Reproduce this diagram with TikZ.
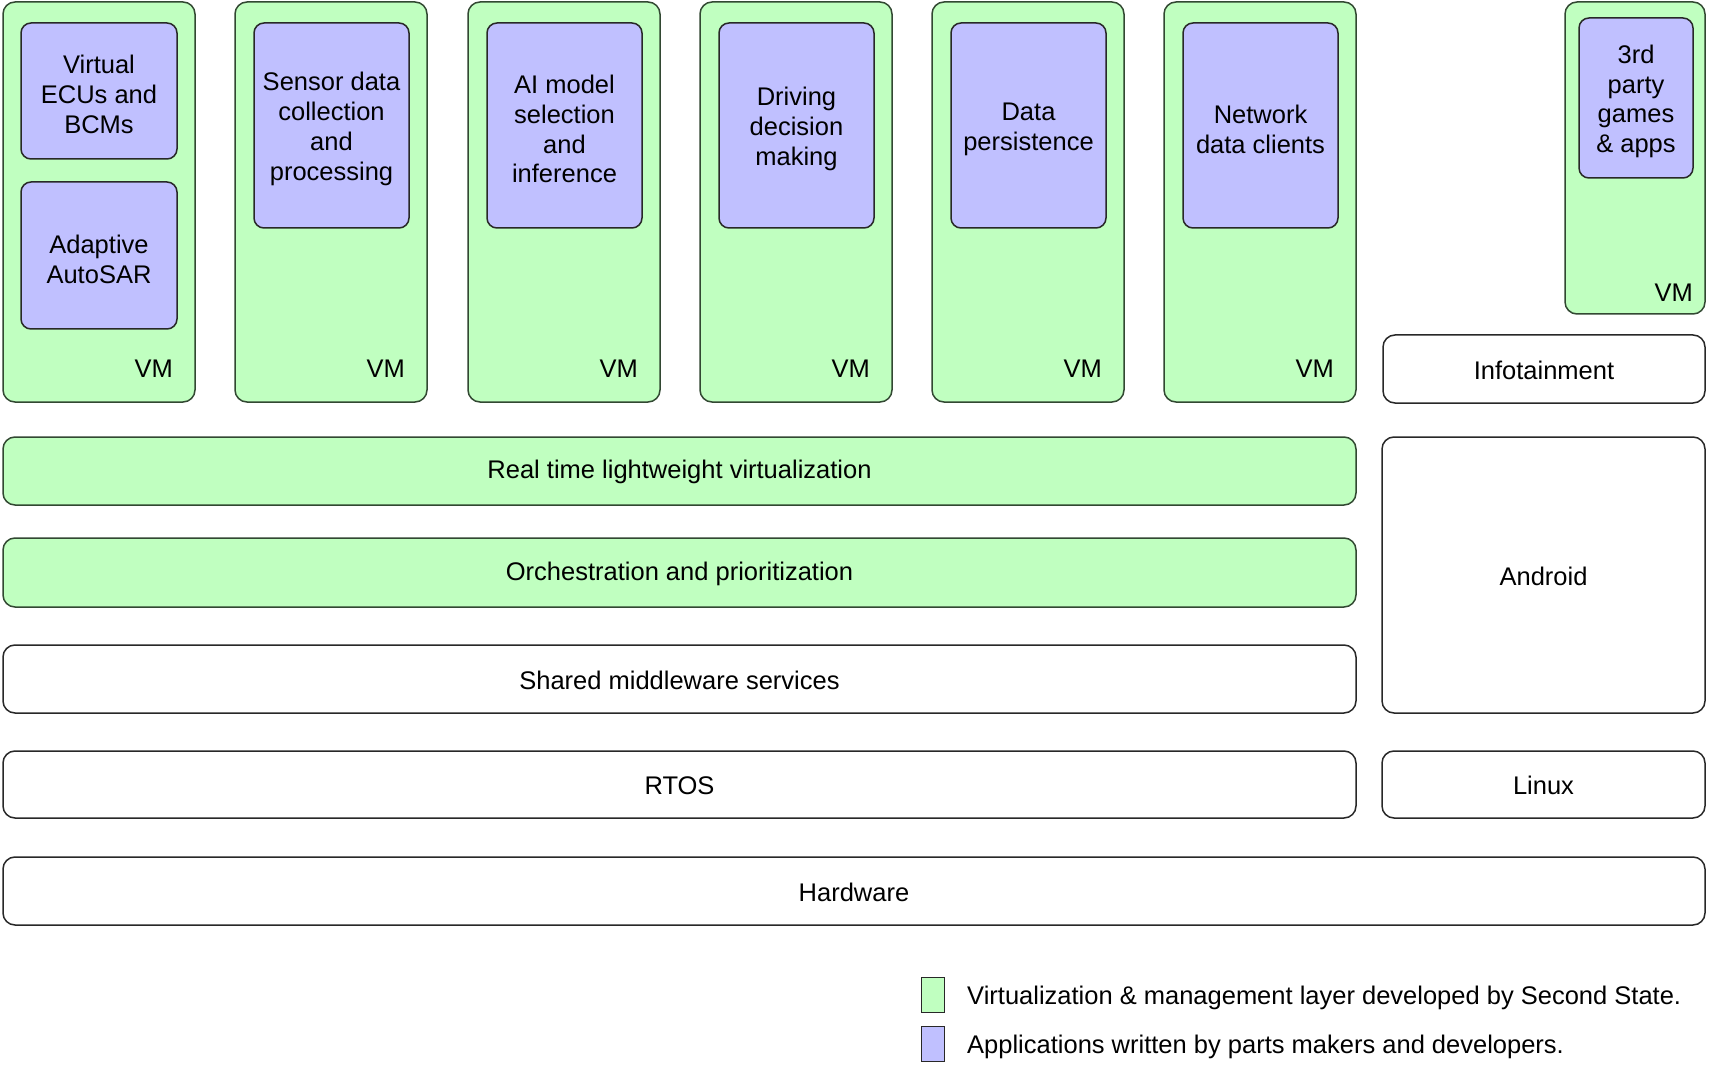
\documentclass[tikz,border=0pt]{standalone}
\usepackage{fontspec}
\setmainfont{Liberation Sans}
\definecolor{vmgreen}{RGB}{192,255,192}
\definecolor{apppurple}{RGB}{192,192,255}
\definecolor{gedge}{RGB}{50,72,50}
\definecolor{bedge}{RGB}{40,40,40}
\begin{document}
\begin{tikzpicture}[x=1pt,y=-1pt,
  font=\fontsize{25.5}{29.8}\selectfont,
  box/.style={draw=bedge, line width=1.5pt, rounded corners=12pt, inner sep=0pt, outer sep=0pt, anchor=north west},
  vm/.style={box, fill=vmgreen, draw=gedge},
  app/.style={box, fill=apppurple, rounded corners=10pt},
  layer/.style={box, fill=white},
  txt/.style={inner sep=0pt, align=center, yshift=-3.5pt},
  ltxt/.style={inner sep=0pt, align=center, yshift=-1pt},
  vmlabel/.style={anchor=east, inner sep=0pt, yshift=-1pt},
  legsq/.style={draw=bedge, line width=1.2pt, inner sep=0pt, anchor=north west, minimum width=23pt, minimum height=35pt},
  legtxt/.style={anchor=west, inner sep=0pt, yshift=-3pt}]
\useasboundingbox[fill=white] (0,0) rectangle (1709,1067);

% VM 1
\node[vm, minimum width=192pt, minimum height=400pt] (vm1) at (3,2) {};
\node[app, minimum width=156pt, minimum height=136pt] (ecu) at (21,23) {};
\node[txt] (ecut) at (ecu.center) {Virtual\\ECUs and\\BCMs};
\node[app, minimum width=156pt, minimum height=147pt] (autosar) at (21,182) {};
\node[txt] (autosart) at (autosar.center) {Adaptive\\AutoSAR};
\node[vmlabel] (vm1l) at (173,368) {VM};

% VM 2
\node[vm, minimum width=192pt, minimum height=400pt] (vm2) at (235,2) {};
\node[app, minimum width=155pt, minimum height=205pt] (sensor) at (254,23) {};
\node[txt] (sensort) at (sensor.center) {Sensor data\\collection\\and\\processing};
\node[vmlabel] (vm2l) at (405,368) {VM};

% VM 3
\node[vm, minimum width=192pt, minimum height=400pt] (vm3) at (468,2) {};
\node[app, minimum width=155pt, minimum height=205pt] (ai) at (487,23) {};
\node[txt] (ait) at (ai.center) {AI model\\selection\\and\\inference};
\node[vmlabel] (vm3l) at (638,368) {VM};

% VM 4
\node[vm, minimum width=192pt, minimum height=400pt] (vm4) at (700,2) {};
\node[app, minimum width=155pt, minimum height=205pt] (driving) at (719,23) {};
\node[txt] (drivingt) at (driving.center) {Driving\\decision\\making};
\node[vmlabel] (vm4l) at (870,368) {VM};

% VM 5
\node[vm, minimum width=192pt, minimum height=400pt] (vm5) at (932,2) {};
\node[app, minimum width=155pt, minimum height=205pt] (data) at (951,23) {};
\node[txt] (datat) at (data.center) {Data\\persistence};
\node[vmlabel] (vm5l) at (1102,368) {VM};

% VM 6
\node[vm, minimum width=192pt, minimum height=400pt] (vm6) at (1164,2) {};
\node[app, minimum width=155pt, minimum height=205pt] (net) at (1183,23) {};
\node[txt] (nett) at (net.center) {Network\\data clients};
\node[vmlabel] (vm6l) at (1334,368) {VM};

% Right VM
\node[vm, minimum width=140pt, minimum height=312pt] (vm7) at (1565,2) {};
\node[app, minimum width=114pt, minimum height=160pt] (games) at (1579,18) {};
\node[txt] (gamest) at (games.center) {3rd\\party\\games\\\& apps};
\node[vmlabel] (vm7l) at (1693,292) {VM};

% Layers
\node[layer, minimum width=322pt, minimum height=68pt] (info) at (1383,335) {};
\node[ltxt] (infot) at (info.center) {Infotainment};
\node[vm, minimum width=1353pt, minimum height=68pt] (rtlv) at (3,437) {};
\node[ltxt] (rtlvt) at (rtlv.center) {Real time lightweight virtualization};
\node[vm, minimum width=1353pt, minimum height=69pt] (orch) at (3,538) {};
\node[ltxt] (orcht) at (orch.center) {Orchestration and prioritization};
\node[layer, minimum width=1353pt, minimum height=68pt] (shared) at (3,645) {};
\node[ltxt] (sharedt) at (shared.center) {Shared middleware services};
\node[layer, minimum width=1353pt, minimum height=67pt] (rtos) at (3,751) {};
\node[ltxt] (rtost) at (rtos.center) {RTOS};
\node[layer, minimum width=1702pt, minimum height=68pt] (hw) at (3,857) {};
\node[ltxt] (hwt) at (hw.center) {Hardware};
\node[layer, minimum width=323pt, minimum height=276pt] (android) at (1382,437) {};
\node[ltxt] (androidt) at (android.center) {Android};
\node[layer, minimum width=323pt, minimum height=67pt] (linux) at (1382,751) {};
\node[ltxt] (linuxt) at (linux.center) {Linux};

% Legend
\node[legsq, fill=vmgreen] (leg1) at (921,977) {};
\node[legsq, fill=apppurple] (leg2) at (921,1026) {};
\node[legtxt] (leg1t) at (967,995) {Virtualization \& management layer developed by Second State.};
\node[legtxt] (leg2t) at (967,1044) {Applications written by parts makers and developers.};
\end{tikzpicture}
\end{document}
